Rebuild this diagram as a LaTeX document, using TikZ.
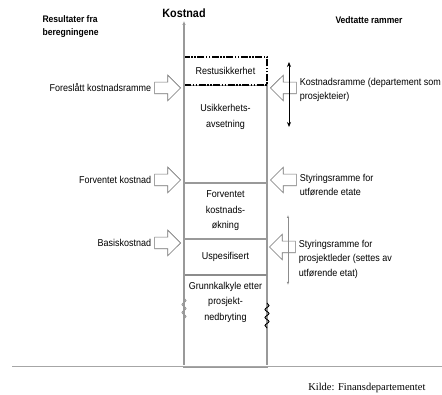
\documentclass[tikz,border=0pt]{standalone}
\usepackage{fontspec}
\setmainfont{Liberation Sans}[FakeStretch=0.9]
\newfontfamily\kildefont{Liberation Serif}
\usepackage{tikz}
\usetikzlibrary{arrows.meta,positioning,shapes.arrows,decorations.pathmorphing}
\tikzset{
  cell/.style   = {rectangle, draw=black!40, line width=1.1pt, minimum width=83pt,
                   inner sep=0pt, outer sep=0pt, align=center,
                   font=\fontsize{10}{15.5}\selectfont},
  rest/.style   = {cell, draw=black, line width=1.4pt, fill=white,
                   dash pattern=on 7pt off 1.5pt on 1.5pt off 1.5pt on 1.5pt off 1.5pt},
  celltxt/.style = {align=center, inner sep=0pt, font=\fontsize{10}{15.5}\selectfont},
  pil/.style    = {single arrow, draw=black!55, fill=white, line width=0.6pt,
                   minimum height=26pt, minimum width=1pt, inner xsep=0pt,
                   inner ysep=5.5pt, single arrow head extend=7pt, anchor=tip},
  pilv/.style   = {pil, shape border rotate=180},
  lbl/.style    = {font=\fontsize{10}{14.5}\selectfont, inner sep=1pt},
  hdr/.style    = {font=\fontsize{9.5}{13}\selectfont\bfseries, align=left},
  akse/.style   = {draw=black!40, line width=1.1pt, -{Latex[open,length=4pt,width=3.5pt]}},
  spenn/.style  = {line width=0.8pt, {Stealth[length=5pt,width=4pt]}-{Stealth[length=5pt,width=4pt]}},
  spenng/.style = {draw=black!45, line width=0.6pt,
                   {Latex[open,length=3pt,width=2.5pt]}-{Latex[open,length=3pt,width=2.5pt]}},
  brudd/.style  = {decorate, decoration={snake, amplitude=2pt, segment length=8pt},
                   line width=0.9pt},
  bakke/.style  = {draw=black!35, line width=0.5pt, double=white, double distance=1pt}
}
\begin{document}
\begin{tikzpicture}[x=1pt, y=-1pt, node distance=2pt]
    \useasboundingbox (0,0) rectangle (442,395);

    % ---- Headings ----
    \node[hdr, anchor=west] (res) at (39,26.5) {Resultater fra\\beregningene};
    \node[font=\fontsize{12}{14}\selectfont\bfseries] (kostnad) at (184,13) {Kostnad};
    \node[hdr] (vedtatt) at (369,20) {Vedtatte rammer};

    % ---- Cost column (bottom up) ----
    \node[cell, minimum height=92pt] (grunn) at (225.5,321) {};
    \node[cell, minimum height=36pt, above=0pt of grunn] (uspes) {Uspesifisert};
    \node[cell, minimum height=56pt, above=0pt of uspes] (forv)
                     {Forventet\\kostnads-\\økning};
    \node[cell, minimum height=98pt, above=0pt of forv] (usik) {};
    \node[rest, minimum height=28pt, above=0pt of usik] (restu) {Restusikkerhet};
    \node[celltxt] (usiktxt) at (225.5,117) {Usikkerhets-\\avsetning};
    \node[celltxt] (grunntxt) at (225.5,302) {Grunnkalkyle etter\\prosjekt-\\nedbryting};
    \draw[draw=black!45, line width=1.8pt] (uspes.south west) -- (uspes.south east);

    % ---- Axis and ground ----
    \draw[akse] (grunn.south west) -- (kostnad.south);
    \coordinate (g0) at (12,366);
    \coordinate (g1) at (442,366);
    \draw[bakke] (g0) -- (g1);
    \draw[brudd, draw=black!40] (184,298) -- (184,322);
    \draw[brudd] (267,303) -- (267,328);

    % ---- Results (left) ----
    \node[pil] (pForeslatt) at (181,88) {};
    \node[lbl, left=of pForeslatt.tail] (tForeslatt) {Foreslått kostnadsramme};
    \node[pil] (pForventet) at (181,180) {};
    \node[lbl, left=of pForventet.tail] (tForventet) {Forventet kostnad};
    \node[pil] (pBasis) at (181,243) {};
    \node[lbl, left=of pBasis.tail] (tBasis) {Basiskostnad};

    % ---- Frames (right) ----
    \node[pilv] (pKramme) at (270,88) {};
    \node[lbl, align=left, right=of pKramme.tail, yshift=-2pt] (tKramme)
                     {Kostnadsramme (departement som\\prosjekteier)};
    \node[pilv] (pEtat) at (270,180) {};
    \node[lbl, align=left, right=of pEtat.tail, yshift=-5pt] (tEtat)
                     {Styringsramme for\\utførende etate};
    \node[pilv] (pLeder) at (269,247) {};
    \node[lbl, align=left, right=of pLeder.tail, yshift=-12pt] (tLeder)
                     {Styringsramme for\\prosjektleder (settes av\\utførende etat)};

    \coordinate (kTop) at (289,62);
    \coordinate (kBot) at (289,127);
    \draw[spenn] (kTop) -- (kBot);
    \coordinate (lTop) at (288,215);
    \coordinate (lBot) at (288,285);
    \draw[spenng] (lTop) -- (lBot);

    % ---- Source ----
    \node[font=\kildefont\fontsize{10.5}{12}\selectfont, anchor=east] (kilde)
                     at (429,388) {Kilde: Finansdepartementet};
\end{tikzpicture}
\end{document}
